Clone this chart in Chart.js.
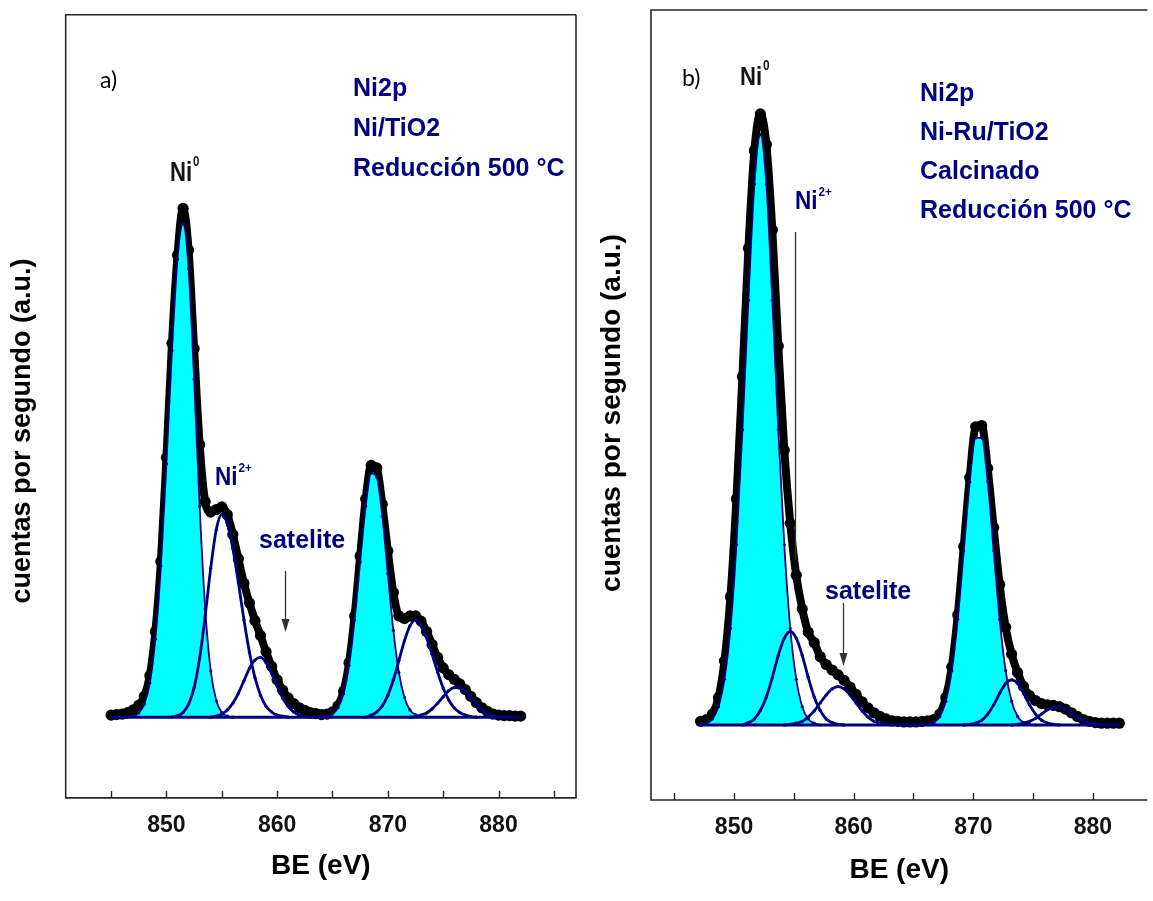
<!DOCTYPE html>
<html>
<head>
<meta charset="utf-8">
<script src="https://cdn.jsdelivr.net/npm/chart.js@4.4.0/dist/chart.umd.min.js"></script>
<style>
  html, body { margin: 0; padding: 0; background: #fff; overflow: hidden; }
  #wrapA { position: absolute; left: 0; top: 0; width: 590px; height: 901px; }
  #wrapB { position: absolute; left: 590px; top: 0; width: 563px; height: 901px; }
</style>
</head>
<body>
<div id="wrapA"><canvas id="chartA" width="590" height="901"></canvas></div>
<div id="wrapB"><canvas id="chartB" width="563" height="901"></canvas></div>
<script>
// ---- panel a) Ni/TiO2, binding energy in eV ----
const beA = [
  845, 845.5, 846, 846.5, 847, 847.5, 848, 848.5, 849, 849.5,
  850, 850.5, 851, 851.5, 852, 852.5, 853, 853.5, 854, 854.5,
  855, 855.5, 856, 856.5, 857, 857.5, 858, 858.5, 859, 859.5,
  860, 860.5, 861, 861.5, 862, 862.5, 863, 863.5, 864, 864.5,
  865, 865.5, 866, 866.5, 867, 867.5, 868, 868.5, 869, 869.5,
  870, 870.5, 871, 871.5, 872, 872.5, 873, 873.5, 874, 874.5,
  875, 875.5, 876, 876.5, 877, 877.5, 878, 878.5, 879, 879.5,
  880, 880.5, 881, 881.5, 882
];
// measured counts (a.u.)
const countsA = [
  0.4, 0.5, 0.6, 0.9, 1.4, 2.3, 4.0, 8.0, 16.5, 30,
  50, 72, 89, 98, 90, 71, 52.5, 41.5, 39.5, 40,
  40.5, 39, 35.2, 30.5, 25.8, 22, 18.6, 15.7, 12.6, 9.8,
  7.2, 5.2, 3.7, 2.6, 1.8, 1.3, 0.9, 0.7, 0.5, 0.6,
  1.0, 2.2, 5.0, 10.5, 19.5, 31, 42, 48.5, 48, 41,
  32, 24, 19.5, 19, 19.5, 19.5, 18.5, 16.5, 14, 11.5,
  9.5, 8.2, 7.3, 6.4, 5.3, 4.0, 2.8, 1.8, 1.1, 0.6,
  0.4, 0.3, 0.3, 0.2, 0.2
];
// fitted Ni0 (2p3/2 + 2p1/2)
const ni0A = [
  null, null, null, 0, 0.2, 0.8, 2.5, 6.6, 15.0, 29.1,
  48.8, 70.6, 88.2, 95, 86.4, 65.1, 40.6, 20.9, 8.9, 3.2,
  0.9, 0.2, 0, null, null, null, null, null, null, null,
  null, null, null, null, null, null, null, null, 0, 0.2,
  0.6, 1.8, 4.5, 10.0, 18.7, 29.9, 40.6, 47.0, 46.2, 38.7,
  27.6, 16.7, 8.6, 3.8, 1.4, 0.5, 0.1, 0, null, null,
  null, null, null, null, null, null, null, null, null, null,
  null, null, null, null, null
];
// fitted Ni2+
const ni2A = [
  null, null, null, null, null, null, null, null, null, null,
  null, 0, 0.3, 0.9, 2.5, 5.7, 11.4, 19.5, 28.7, 36.1,
  39, 37.3, 32.5, 25.9, 18.8, 12.5, 7.6, 4.2, 2.1, 1.0,
  0.4, 0.2, 0, null, null, null, null, null, null, null,
  null, null, null, null, null, null, 0, 0.4, 1.0, 2.2,
  4.2, 7.2, 10.9, 14.7, 17.6, 18.7, 17.8, 15.4, 12.1, 8.7,
  5.6, 3.3, 1.8, 0.9, 0.4, 0.1, 0, null, null, null,
  null, null, null, null, null
];
// fitted satellites
const satA = [
  null, null, null, null, null, null, null, null, null, null,
  null, null, null, null, null, null, null, null, 0, 0.2,
  0.6, 1.4, 2.7, 4.6, 7.0, 9.4, 11.0, 11.5, 10.5, 8.5,
  6.0, 3.7, 2.1, 1.0, 0.4, 0.1, 0, null, null, null,
  null, null, null, null, null, null, null, null, null, null,
  null, null, null, null, 0, 0.1, 0.4, 0.8, 1.6, 2.7,
  3.9, 5.1, 5.7, 5.7, 4.9, 3.7, 2.4, 1.4, 0.7, 0.3,
  0.1, 0, null, null, null
];

// ---- panel b) Ni-Ru/TiO2 ----
const beB = [
  847.2, 847.7, 848.2, 848.7, 849.2, 849.7, 850.2, 850.7, 851.2, 851.7,
  852.2, 852.7, 853.2, 853.7, 854.2, 854.7, 855.2, 855.7, 856.2, 856.7,
  857.2, 857.7, 858.2, 858.7, 859.2, 859.7, 860.2, 860.7, 861.2, 861.7,
  862.2, 862.7, 863.2, 863.7, 864.2, 864.7, 865.2, 865.7, 866.2, 866.7,
  867.2, 867.7, 868.2, 868.7, 869.2, 869.7, 870.2, 870.7, 871.2, 871.7,
  872.2, 872.7, 873.2, 873.7, 874.2, 874.7, 875.2, 875.7, 876.2, 876.7,
  877.2, 877.7, 878.2, 878.7, 879.2, 879.7, 880.2, 880.7, 881.2, 881.7,
  882.2
];
const countsB = [
  0.6, 0.9, 1.8, 4.5, 10.5, 21, 37, 57, 78, 94,
  100, 95, 81, 62, 45, 33, 24.5, 19, 15.2, 13.5,
  11.2, 9.9, 9.0, 8.2, 7.3, 6.2, 5.0, 3.8, 2.8, 2.0,
  1.4, 1.0, 0.7, 0.6, 0.5, 0.5, 0.5, 0.6, 0.7, 0.9,
  1.8, 4.5, 9.5, 18, 29.2, 40.5, 48.8, 49, 42, 32.3,
  23, 16, 11.6, 8.6, 6.3, 4.8, 4.0, 3.5, 3.3, 3.2,
  3.0, 2.6, 2.0, 1.4, 0.9, 0.6, 0.4, 0.3, 0.3, 0.3,
  0.3
];
const ni0B = [
  0, 0.3, 1.0, 3.0, 7.5, 15.8, 29.5, 48.3, 69.5, 88.5,
  96.6, 88.5, 69.5, 48.3, 29.5, 15.8, 7.5, 3.0, 1.0, 0.3,
  0, null, null, null, null, null, null, null, null, null,
  null, null, null, null, null, null, null, 0, 0.1, 0.4,
  1.4, 3.9, 8.9, 17.3, 28.5, 39.8, 47.0, 47.0, 39.8, 28.5,
  17.3, 8.9, 3.9, 1.4, 0.4, 0.1, 0, null, null, null,
  null, null, null, null, null, null, null, null, null, null,
  null
];
const ni2B = [
  null, null, null, null, null, null, null, 0, 0.4, 1.0,
  2.4, 4.6, 7.8, 11.4, 14.2, 15.3, 14.2, 11.4, 7.8, 4.6,
  2.4, 1.0, 0.4, 0.1, 0, null, null, null, null, null,
  null, null, null, null, null, null, null, null, null, null,
  null, null, null, null, 0, 0.1, 0.3, 0.8, 1.8, 3.3,
  5.2, 6.8, 7.4, 6.8, 5.2, 3.3, 1.8, 0.8, 0.3, 0.1,
  0, null, null, null, null, null, null, null, null, null,
  null
];
const satB = [
  null, null, null, null, null, null, null, null, null, null,
  null, null, null, null, 0, 0.1, 0.3, 0.6, 1.3, 2.3,
  3.6, 4.9, 5.9, 6.3, 5.9, 4.9, 3.6, 2.3, 1.3, 0.6,
  0.3, 0.1, 0, null, null, null, null, null, null, null,
  null, null, null, null, null, null, null, null, null, null,
  null, null, 0, 0.1, 0.3, 0.6, 1.1, 1.8, 2.5, 2.9,
  3.0, 2.6, 1.9, 1.2, 0.7, 0.3, 0.1, 0, null, null,
  null
];

const tickLabels = [850, 860, 870, 880];

const navy = '#000080';
const cyan = '#00ffff';
const boldFont = 'bold 25px "Liberation Sans", Arial, sans-serif';

function pts(xs, ys) {
  return xs.map((x, i) => ({ x: x, y: ys[i] }));
}

// box around the plot area (b has no right edge in the picture)
const framePlugin = {
  id: 'frame',
  afterDraw(chart, args, opts) {
    const ctx = chart.ctx, a = chart.chartArea;
    ctx.save();
    ctx.strokeStyle = '#262626';
    ctx.lineWidth = 1.6;
    ctx.beginPath();
    ctx.moveTo(a.right, a.top);
    ctx.lineTo(a.left, a.top);
    ctx.lineTo(a.left, a.bottom);
    ctx.lineTo(a.right, a.bottom);
    if (opts.closed) ctx.lineTo(a.right, a.top);
    ctx.stroke();
    ctx.restore();
  }
};

// tick marks pointing into the plot
const innerTicks = {
  id: 'innerTicks',
  afterDraw(chart, args, opts) {
    const ctx = chart.ctx, sx = chart.scales.x, bottom = chart.chartArea.bottom;
    ctx.save();
    ctx.strokeStyle = '#262626';
    ctx.lineWidth = 1.4;
    sx.ticks.forEach(t => {
      const px = Math.round(sx.getPixelForValue(t.value)) + 0.5;
      ctx.beginPath();
      ctx.moveTo(px, bottom);
      ctx.lineTo(px, bottom - opts.length);
      ctx.stroke();
    });
    ctx.restore();
  }
};

// labels, arrows
const notesPlugin = {
  id: 'notes',
  afterDraw(chart, args, opts) {
    const ctx = chart.ctx;
    (opts.lines || []).forEach(l => {
      ctx.save();
      ctx.strokeStyle = '#333';
      ctx.fillStyle = '#333';
      ctx.lineWidth = 1.3;
      ctx.beginPath();
      ctx.moveTo(l.x, l.y1);
      ctx.lineTo(l.x, l.arrow ? l.y2 - 12 : l.y2);
      ctx.stroke();
      if (l.arrow) {
        ctx.beginPath();
        ctx.moveTo(l.x - 4, l.y2 - 13);
        ctx.lineTo(l.x + 4, l.y2 - 13);
        ctx.lineTo(l.x, l.y2);
        ctx.closePath();
        ctx.fill();
      }
      ctx.restore();
    });
    (opts.texts || []).forEach(t => {
      ctx.save();
      ctx.font = t.font;
      ctx.fillStyle = t.color;
      ctx.textAlign = t.align || 'left';
      ctx.textBaseline = t.baseline || 'alphabetic';
      ctx.translate(t.x, t.y);
      if (t.rotate) ctx.rotate(t.rotate);
      if (t.sx) ctx.scale(t.sx, 1);
      ctx.fillText(t.text, 0, 0);
      if (t.sup) {
        const w = ctx.measureText(t.text).width;
        ctx.font = t.supFont;
        ctx.fillText(t.sup, w + 1, -t.supRise);
      }
      ctx.restore();
    });
  }
};

function makeChart(id, be, counts, ni0, ni2, sat, cfg) {
  return new Chart(document.getElementById(id).getContext('2d'), {
    type: 'line',
    data: {
      datasets: [
        {
          label: 'Ni2+', data: pts(be, ni2), borderColor: navy, borderWidth: 2.8,
          pointRadius: 1.6, pointBackgroundColor: navy, pointBorderWidth: 0,
          fill: false, cubicInterpolationMode: 'monotone', order: 1
        },
        {
          label: 'satelite', data: pts(be, sat), borderColor: navy, borderWidth: 2.8,
          pointRadius: 1.6, pointBackgroundColor: navy, pointBorderWidth: 0,
          fill: false, cubicInterpolationMode: 'monotone', order: 1
        },
        {
          label: 'base', data: [{ x: be[0], y: 0 }, { x: be[be.length - 1], y: 0 }],
          borderColor: navy, borderWidth: 3, pointRadius: 0, fill: false, order: 2
        },
        {
          label: 'Ni0', data: pts(be, ni0), borderColor: navy, borderWidth: 1.8,
          backgroundColor: cyan, fill: 'origin',
          pointRadius: 1.6, pointBackgroundColor: navy, pointBorderWidth: 0,
          cubicInterpolationMode: 'monotone', order: 3
        },
        {
          label: 'experimental', data: pts(be, counts), borderColor: '#000', borderWidth: 8,
          pointRadius: 5.6, pointBackgroundColor: '#000', pointBorderWidth: 0,
          fill: false, cubicInterpolationMode: 'monotone', order: 4
        }
      ]
    },
    options: {
      responsive: false,
      animation: false,
      layout: { padding: cfg.padding },
      plugins: {
        legend: { display: false },
        tooltip: { enabled: false },
        frame: { closed: cfg.closed },
        innerTicks: { length: 7 },
        notes: cfg.notes
      },
      scales: {
        x: {
          type: 'linear',
          min: cfg.xmin,
          max: cfg.xmax,
          grid: { display: false, drawTicks: false },
          border: { display: false },
          ticks: {
            stepSize: 5,
            includeBounds: false,
            autoSkip: false,
            maxRotation: 0,
            padding: 14.3,
            color: '#111',
            font: { family: '"Liberation Sans", Arial, sans-serif', size: 23, weight: 'bold' },
            callback: v => tickLabels.includes(Math.round(v)) ? String(Math.round(v)) : ''
          },
          title: {
            display: true,
            text: 'BE (eV)',
            color: '#000',
            font: { family: '"Liberation Sans", Arial, sans-serif', size: 28, weight: 'bold' },
            padding: cfg.titlePad
          }
        },
        y: { display: false, min: cfg.ymin, max: cfg.ymax }
      }
    },
    plugins: [framePlugin, innerTicks, notesPlugin]
  });
}

makeChart('chartA', beA, countsA, ni0A, ni2A, satA, {
  padding: { left: 65.7, right: 14, top: 14.7, bottom: 0 },
  closed: true,
  xmin: 840.9, xmax: 887,
  ymin: -15.55, ymax: 135.3,
  titlePad: { top: -4.7, bottom: 18 },
  notes: {
    texts: [
      { text: 'a)', x: 100, y: 88, font: '23px Lato, "Open Sans", sans-serif', color: '#000' },
      { text: 'Ni2p', x: 353, y: 96, font: boldFont, color: navy },
      { text: 'Ni/TiO2', x: 353, y: 136, font: boldFont, color: navy },
      { text: 'Reducción 500 °C', x: 353, y: 176, font: boldFont, color: navy },
      { text: 'Ni', x: 170, y: 181, font: 'bold 27px "Liberation Sans", Arial', color: '#141414', sx: 0.82,
        sup: '0', supFont: 'bold 14px "Liberation Sans", Arial', supRise: 15 },
      { text: 'Ni', x: 215, y: 485, font: 'bold 25px "Liberation Sans", Arial', color: navy, sx: 0.9,
        sup: '2+', supFont: 'bold 13px "Liberation Sans", Arial', supRise: 13 },
      { text: 'satelite', x: 259, y: 548, font: boldFont, color: navy },
      { text: 'cuentas por segundo (a.u.)', x: 23, y: 431, rotate: -Math.PI / 2, align: 'center',
        baseline: 'middle', font: 'bold 27px "Liberation Sans", Arial', color: '#000' }
    ],
    lines: [
      { x: 285.5, y1: 571, y2: 632, arrow: true }
    ]
  }
});

makeChart('chartB', beB, countsB, ni0B, ni2B, satB, {
  padding: { left: 61, right: 0, top: 10, bottom: 0 },
  closed: false,
  xmin: 843.06, xmax: 884.55,
  ymin: -12.27, ymax: 117.0,
  titlePad: { top: -3, bottom: 14.2 },
  notes: {
    texts: [
      { text: 'b)', x: 92, y: 86, font: '23px Lato, "Open Sans", sans-serif', color: '#000' },
      { text: 'Ni', x: 150, y: 85, font: 'bold 26px "Liberation Sans", Arial', color: '#141414', sx: 0.85,
        sup: '0', supFont: 'bold 14px "Liberation Sans", Arial', supRise: 15 },
      { text: 'Ni2p', x: 330, y: 101, font: boldFont, color: navy },
      { text: 'Ni-Ru/TiO2', x: 330, y: 140, font: boldFont, color: navy },
      { text: 'Calcinado', x: 330, y: 179, font: boldFont, color: navy },
      { text: 'Reducción 500 °C', x: 330, y: 218, font: boldFont, color: navy },
      { text: 'Ni', x: 205, y: 209, font: 'bold 25px "Liberation Sans", Arial', color: navy, sx: 0.9,
        sup: '2+', supFont: 'bold 13px "Liberation Sans", Arial', supRise: 13 },
      { text: 'satelite', x: 235, y: 599, font: boldFont, color: navy },
      { text: 'cuentas por segundo (a.u.)', x: 22, y: 413, rotate: -Math.PI / 2, align: 'center',
        baseline: 'middle', font: 'bold 28px "Liberation Sans", Arial', color: '#000' }
    ],
    lines: [
      { x: 205.5, y1: 232, y2: 560, arrow: false },
      { x: 253.5, y1: 603, y2: 666, arrow: true }
    ]
  }
});
</script>
</body>
</html>
